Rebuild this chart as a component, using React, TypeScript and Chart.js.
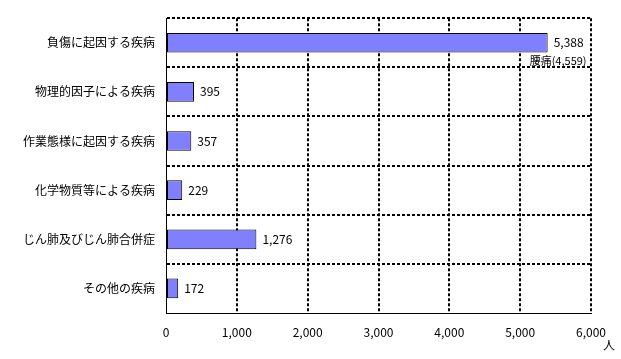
import React, { useEffect, useRef } from "react";
import { Chart, registerables } from "chart.js";

Chart.register(...registerables);

const categories = [
  "負傷に起因する疾病",
  "物理的因子による疾病",
  "作業態様に起因する疾病",
  "化学物質等による疾病",
  "じん肺及びじん肺合併症",
  "その他の疾病",
];
const values = [5388, 395, 357, 229, 1276, 172];
const notes = ["腰痛(4,559)", "", "", "", "", ""];
const xMax = 6000;
const xStep = 1000;
const unitLabel = "人";

const FONT = "'Noto Sans CJK JP', 'Noto Sans', sans-serif";
const fmt = (v: number) => v.toLocaleString("en-US");

const labelPlugin = {
  id: "valueLabels",
  afterDatasetsDraw(chart: any) {
    const ctx = chart.ctx;
    const meta = chart.getDatasetMeta(0);
    ctx.save();
    ctx.fillStyle = "#000";
    ctx.textBaseline = "middle";
    meta.data.forEach((bar: any, i: number) => {
      ctx.textAlign = "left";
      ctx.font = `12px ${FONT}`;
      ctx.fillText(fmt(values[i]), bar.x + 6, bar.y);
      if (notes[i]) {
        ctx.font = `11px ${FONT}`;
        ctx.fillText(notes[i], bar.x - 18, bar.y + 18);
      }
    });
    const xs = chart.scales.x;
    ctx.font = `12px ${FONT}`;
    ctx.textAlign = "left";
    ctx.fillText(unitLabel, xs.right + 12, xs.bottom - 14);
    ctx.restore();
  },
};

export default function App() {
  const ref = useRef<HTMLCanvasElement>(null);
  useEffect(() => {
    document.body.style.margin = "0";
    const chart = new Chart(ref.current!, {
      type: "bar",
      data: {
        labels: categories,
        datasets: [
          {
            data: values,
            backgroundColor: "#8080FF",
            borderColor: "#000",
            borderWidth: 1,
            borderSkipped: false,
            barPercentage: 0.4,
            categoryPercentage: 1,
          },
        ],
      },
      options: {
        indexAxis: "y",
        animation: false,
        responsive: false,
        layout: { padding: { top: 7, right: 30, left: 0, bottom: 0 } },
        plugins: { legend: { display: false }, tooltip: { enabled: false } },
        scales: {
          x: {
            min: 0,
            max: xMax,
            afterFit: (s: any) => {
              s.height = 46;
            },
            ticks: {
              stepSize: xStep,
              color: "#000",
              font: { size: 12, family: FONT },
              padding: 12,
              callback: (v: any) => fmt(Number(v)),
            },
            grid: {
              drawTicks: false,
              color: (c: any) => (c.index === 0 ? "rgba(0,0,0,0)" : "#000"),
              lineWidth: 2,
            },
            border: { display: true, color: "#000", width: 1, dash: [3, 2] },
          },
          y: {
            afterFit: (s: any) => {
              s.width = 166;
            },
            ticks: {
              color: "#000",
              font: { size: 12, family: FONT },
              padding: 11,
            },
            grid: {
              drawTicks: false,
              offset: true,
              color: (c: any) =>
                c.type === "scale" || c.index === undefined ? "rgba(0,0,0,0)" : "#000",
              lineWidth: 2,
            },
            border: { display: true, color: "#000", width: 1, dash: [3, 2] },
          },
        },
      },
      plugins: [labelPlugin],
    } as any);
    return () => chart.destroy();
  }, []);
  return (
    <div style={{ width: 621, height: 359 }}>
      <canvas ref={ref} width={621} height={359} />
    </div>
  );
}
